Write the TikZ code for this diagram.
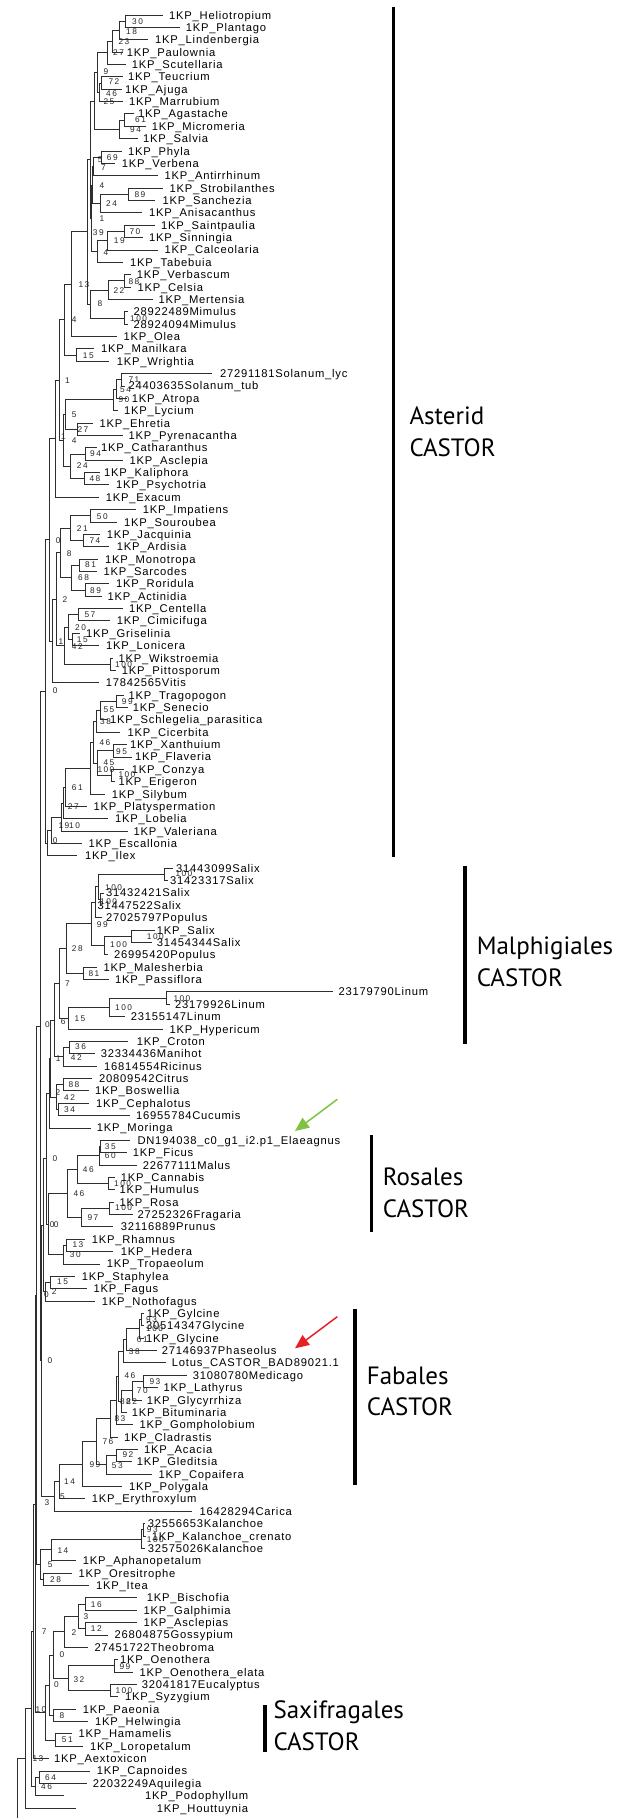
\documentclass[tikz,border=0pt]{standalone}
\usepackage{fontspec}
\setmainfont{Liberation Sans}
\newfontfamily\leaffont[LetterSpace=7]{Liberation Sans}
\newfontfamily\bootfont[LetterSpace=18]{Liberation Sans}
\newfontfamily\cladefont{PT Sans}
\usetikzlibrary{calc,arrows.meta}

% leaf: index, branch end x, label x, text
\newcommand\lf[4]{%
  \coordinate (l#1) at (#2,{15+(#1-1)*12.366});
  \node[leaf] (t#1) at (#3,{15+(#1-1)*12.366}) {#4};}
% internal node: name, x, first child, last child
\newcommand\nd[4]{\path let \p1=(#3),\p2=(#4) in coordinate (#1) at (#2pt,{0.5*(\y1+\y2)});}
% rectangular branches from a node to its children
\newcommand\br[2]{\foreach \c in {#2}{\draw[branch] (#1) |- (\c);}}
% support values
\newcounter{bsn}
\newcommand\bs[3]{\stepcounter{bsn}\node[boot] (bs\arabic{bsn}) at (#1,#2) {#3};}

\tikzset{
  leaf/.style={anchor=west,inner sep=0pt,text height=8pt,text depth=0pt,font=\leaffont\fontsize{11.2}{13}\selectfont},
  boot/.style={anchor=west,inner sep=0pt,text height=5.9pt,text depth=0pt,font=\bootfont\fontsize{8.3}{10}\selectfont,text=black!85},
  branch/.style={line width=0.9pt,black!82},
  cladebar/.style={line width=3.4pt,black},
  cladetext/.style={anchor=base west,inner sep=0pt,font=\cladefont\fontsize{25}{30}\selectfont},
  pointer/.style={line width=1.5pt,-{Triangle[length=14pt,width=12pt]}}
}

\begin{document}
\begin{tikzpicture}[x=1pt,y=-1pt]
\useasboundingbox (0,0) rectangle (625,1818);
\fill[white] (0,0) rectangle (625,1818);

% ---------------- leaves ----------------
\lf{1}{163.3}{169}{1KP\_Heliotropium}
\lf{2}{180}{185.7}{1KP\_Plantago}
\lf{3}{148}{155}{1KP\_Lindenbergia}
\lf{4}{123}{126.7}{1KP\_Paulownia}
\lf{5}{126}{131.7}{1KP\_Scutellaria}
\lf{6}{123}{128}{1KP\_Teucrium}
\lf{7}{121.7}{125}{1KP\_Ajuga}
\lf{8}{123}{129}{1KP\_Marrubium}
\lf{9}{134}{138}{1KP\_Agastache}
\lf{10}{146}{151.7}{1KP\_Micromeria}
\lf{11}{138}{143}{1KP\_Salvia}
\lf{12}{121.7}{128}{1KP\_Phyla}
\lf{13}{115}{121.7}{1KP\_Verbena}
\lf{14}{158.3}{164.3}{1KP\_Antirrhinum}
\lf{15}{163.3}{169.3}{1KP\_Strobilanthes}
\lf{16}{155}{162.3}{1KP\_Sanchezia}
\lf{17}{141.7}{149}{1KP\_Anisacanthus}
\lf{18}{155}{161}{1KP\_Saintpaulia}
\lf{19}{143.3}{149}{1KP\_Sinningia}
\lf{20}{158.3}{164.3}{1KP\_Calceolaria}
\lf{21}{122.7}{130}{1KP\_Tabebuia}
\lf{22}{131}{136.7}{1KP\_Verbascum}
\lf{23}{131}{137.3}{1KP\_Celsia}
\lf{24}{153.3}{158.3}{1KP\_Mertensia}
\lf{25}{128}{133.3}{28922489Mimulus}
\lf{26}{128}{133.3}{28924094Mimulus}
\lf{27}{116.7}{123.3}{1KP\_Olea}
\lf{28}{94.3}{101}{1KP\_Manilkara}
\lf{29}{109.3}{116.7}{1KP\_Wrightia}
\lf{30}{211.7}{220}{27291181Solanum\_lyc}
\lf{31}{125}{128.3}{24403635Solanum\_tub}
\lf{32}{127}{131.7}{1KP\_Atropa}
\lf{33}{118.3}{124}{1KP\_Lycium}
\lf{34}{92.7}{99.3}{1KP\_Ehretia}
\lf{35}{122.7}{128.3}{1KP\_Pyrenacantha}
\lf{36}{96.7}{101}{1KP\_Catharanthus}
\lf{37}{122.7}{129.3}{1KP\_Asclepia}
\lf{38}{100}{104}{1KP\_Kaliphora}
\lf{39}{109.3}{116}{1KP\_Psychotria}
\lf{40}{99}{105.7}{1KP\_Exacum}
\lf{41}{136}{142.7}{1KP\_Impatiens}
\lf{42}{117.3}{124}{1KP\_Souroubea}
\lf{43}{100}{106.7}{1KP\_Jacquinia}
\lf{44}{109.3}{116.7}{1KP\_Ardisia}
\lf{45}{98.3}{105}{1KP\_Monotropa}
\lf{46}{96.7}{103.3}{1KP\_Sarcodes}
\lf{47}{109.3}{116}{1KP\_Roridula}
\lf{48}{101.7}{107.3}{1KP\_Actinidia}
\lf{49}{122.7}{129}{1KP\_Centella}
\lf{50}{110}{116.7}{1KP\_Cimicifuga}
\lf{51}{80}{86}{1KP\_Griselinia}
\lf{52}{99.3}{106}{1KP\_Lonicera}
\lf{53}{113}{118.3}{1KP\_Wikstroemia}
\lf{54}{116}{121.7}{1KP\_Pittosporum}
\lf{55}{99}{105.7}{17842565Vitis}
\lf{56}{124}{128.3}{1KP\_Tragopogon}
\lf{57}{128}{132.7}{1KP\_Senecio}
\lf{58}{108}{110}{1KP\_Schlegelia\_parasitica}
\lf{59}{120}{127.3}{1KP\_Cicerbita}
\lf{60}{126.7}{130}{1KP\_Xanthuium}
\lf{61}{131.7}{135}{1KP\_Flaveria}
\lf{62}{124}{131.7}{1KP\_Conzya}
\lf{63}{115}{118.3}{1KP\_Erigeron}
\lf{64}{105}{111.7}{1KP\_Silybum}
\lf{65}{86.7}{93.3}{1KP\_Platyspermation}
\lf{66}{108.3}{115}{1KP\_Lobelia}
\lf{67}{127.7}{133.3}{1KP\_Valeriana}
\lf{68}{81.7}{88.3}{1KP\_Escallonia}
\lf{69}{77.3}{85}{1KP\_Ilex}
\lf{70}{173}{176}{31443099Salix}
\lf{71}{168}{170}{31423317Salix}
\lf{72}{104}{106}{31432421Salix}
\lf{73}{101}{97.3}{31447522Salix}
\lf{74}{102}{106}{27025797Populus}
\lf{75}{155}{156.7}{1KP\_Salix}
\lf{76}{152}{156.7}{31454344Salix}
\lf{77}{108}{114}{26995420Populus}
\lf{78}{96.7}{103.3}{1KP\_Malesherbia}
\lf{79}{109.3}{115}{1KP\_Passiflora}
\lf{80}{333.3}{338.3}{23179790Linum}
\lf{81}{170}{175}{23179926Linum}
\lf{82}{125}{130.7}{23155147Linum}
\lf{83}{163.3}{169.3}{1KP\_Hypericum}
\lf{84}{128.3}{136.7}{1KP\_Croton}
\lf{85}{95}{100.7}{32334436Manihot}
\lf{86}{96.7}{104}{16814554Ricinus}
\lf{87}{91.7}{99}{20809542Citrus}
\lf{88}{89.3}{95}{1KP\_Boswellia}
\lf{89}{89.3}{96}{1KP\_Cephalotus}
\lf{90}{130}{136}{16955784Cucumis}
\lf{91}{90.7}{96.7}{1KP\_Moringa}
\lf{92}{130}{137.3}{DN194038\_c0\_g1\_i2.p1\_Elaeagnus}
\lf{93}{126.7}{132.7}{1KP\_Ficus}
\lf{94}{136.7}{142.7}{22677111Malus}
\lf{95}{115}{120.7}{1KP\_Cannabis}
\lf{96}{115}{119.3}{1KP\_Humulus}
\lf{97}{114}{119.3}{1KP\_Rosa}
\lf{98}{133.3}{137.3}{27252326Fragaria}
\lf{99}{113.3}{120.7}{32116889Prunus}
\lf{100}{85}{91.7}{1KP\_Rhamnus}
\lf{101}{113.3}{120.7}{1KP\_Hedera}
\lf{102}{100}{106.7}{1KP\_Tropaeolum}
\lf{103}{75}{81.7}{1KP\_Staphylea}
\lf{104}{87.3}{93.3}{1KP\_Fagus}
\lf{105}{95}{101.7}{1KP\_Nothofagus}
\lf{106}{144}{146.7}{1KP\_Gylcine}
\lf{107}{144}{146}{30514347Glycine}
\lf{108}{144}{146}{1KP\_Glycine}
\lf{109}{156.7}{161.7}{27146937Phaseolus}
\lf{110}{166}{171.7}{Lotus\_CASTOR\_BAD89021.1}
\lf{111}{186.7}{192.7}{31080780Medicago}
\lf{112}{158.3}{163.3}{1KP\_Lathyrus}
\lf{113}{141.7}{146.7}{1KP\_Glycyrrhiza}
\lf{114}{126.7}{131.7}{1KP\_Bituminaria}
\lf{115}{133.3}{139.3}{1KP\_Gompholobium}
\lf{116}{118.3}{124}{1KP\_Cladrastis}
\lf{117}{138}{144}{1KP\_Acacia}
\lf{118}{132}{136.7}{1KP\_Gleditsia}
\lf{119}{151.7}{158.3}{1KP\_Copaifera}
\lf{120}{121.7}{129}{1KP\_Polygala}
\lf{121}{85}{91.7}{1KP\_Erythroxylum}
\lf{122}{191.7}{199.3}{16428294Carica}
\lf{123}{145}{147.7}{32556653Kalanchoe}
\lf{124}{146}{151.7}{1KP\_Kalanchoe\_crenato}
\lf{125}{145}{147.7}{32575026Kalanchoe}
\lf{126}{76}{82.7}{1KP\_Aphanopetalum}
\lf{127}{71.7}{78.3}{1KP\_Oresitrophe}
\lf{128}{89.3}{96}{1KP\_Itea}
\lf{129}{136.7}{146.7}{1KP\_Bischofia}
\lf{130}{136.7}{143.3}{1KP\_Galphimia}
\lf{131}{136.7}{143.3}{1KP\_Asclepias}
\lf{132}{108.3}{114.3}{26804875Gossypium}
\lf{133}{88.3}{94.3}{27451722Theobroma}
\lf{134}{118}{120}{1KP\_Oenothera}
\lf{135}{133.3}{139.3}{1KP\_Oenothera\_elata}
\lf{136}{136.7}{141.7}{32041817Eucalyptus}
\lf{137}{118}{125}{1KP\_Syzygium}
\lf{138}{76}{82.7}{1KP\_Paeonia}
\lf{139}{88.3}{95}{1KP\_Helwingia}
\lf{140}{71.7}{78.3}{1KP\_Hamamelis}
\lf{141}{83.3}{90}{1KP\_Loropetalum}
\lf{142}{49.3}{54}{1KP\_Aextoxicon}
\lf{143}{90}{96.7}{1KP\_Capnoides}
\lf{144}{87.3}{92.7}{22032249Aquilegia}
\lf{145}{64}{145}{1KP\_Podophyllum}
\lf{146}{76}{156.7}{1KP\_Houttuynia}

% ---------------- asterids ----------------
\nd{A}{125.7}{l1}{l2}      \br{A}{l1,l2}
\nd{B}{119.3}{A}{l3}       \br{B}{A,l3}
\nd{C}{112}{B}{l4}         \br{C}{B,l4}
\nd{D}{107.3}{C}{l5}       \br{D}{C,l5}
\nd{E}{101.3}{l6}{l7}      \br{E}{l6,l7}
\nd{F}{99}{E}{l8}          \br{F}{E,l8}
\nd{K}{97.3}{D}{F}         \br{K}{D,F}
\nd{H}{124.3}{l9}{l10}     \br{H}{l9,l10}
\nd{I}{119.3}{H}{l11}      \br{I}{H,l11}
\nd{LM}{94.5}{K}{I}        \br{LM}{K,I}
\nd{N}{101.7}{l12}{l13}    \br{N}{l12,l13}
\nd{O}{93.5}{N}{l14}       \br{O}{N,l14}
\nd{P}{128.3}{l15}{l16}    \br{P}{l15,l16}
\nd{Q}{100.7}{P}{l17}      \br{Q}{P,l17}
\nd{VF}{92}{O}{Q}          \br{VF}{O,Q}
\nd{R}{124}{l18}{l19}      \br{R}{l18,l19}
\nd{S}{107.3}{R}{l20}      \br{S}{R,l20}
\nd{T}{97.3}{S}{l21}       \br{T}{S,l21}
\nd{U}{91.2}{VF}{T}        \br{U}{VF,T}
\nd{MM}{90.5}{LM}{U}       \br{MM}{LM,U}
\nd{W}{124}{l22}{l23}      \br{W}{l22,l23}
\nd{X}{108.3}{W}{l24}      \br{X}{W,l24}
\nd{Y}{124}{l25}{l26}      \br{Y}{l25,l26}
\nd{Z}{90.7}{X}{Y}         \br{Z}{X,Y}
\nd{AA}{87.3}{MM}{Z}       \br{AA}{MM,Z}
\nd{AB}{71.7}{AA}{l27}     \br{AB}{AA,l27}
\nd{AC}{76.7}{l28}{l29}    \br{AC}{l28,l29}
\nd{AD}{64.3}{AB}{AC}      \br{AD}{AB,AC}
\nd{AE}{121.7}{l30}{l31}   \br{AE}{l30,l31}
\nd{AF}{116.7}{AE}{l32}    \br{AF}{AE,l32}
\nd{AG}{113.3}{AF}{l33}    \br{AG}{AF,l33}
\nd{AH}{77.3}{l34}{l35}    \br{AH}{l34,l35}
\nd{AI}{65}{AG}{AH}        \br{AI}{AG,AH}
\nd{AJ}{85}{l36}{l37}      \br{AJ}{l36,l37}
\nd{AK}{84}{l38}{l39}      \br{AK}{l38,l39}
\nd{AL}{70.7}{AJ}{AK}      \br{AL}{AJ,AK}
\nd{AM}{63.3}{AI}{AL}      \br{AM}{AI,AL}
\nd{AO}{59.3}{AD}{AM}      \br{AO}{AD,AM}
\nd{AN}{55}{AO}{l40}       \br{AN}{AO,l40}
\nd{AQ}{90.7}{l41}{l42}    \br{AQ}{l41,l42}
\nd{AR}{83.3}{l43}{l44}    \br{AR}{l43,l44}
\nd{AS}{70.7}{AQ}{AR}      \br{AS}{AQ,AR}
\nd{AT}{79.3}{l45}{l46}    \br{AT}{l45,l46}
\nd{AU}{85}{l47}{l48}      \br{AU}{l47,l48}
\nd{AV}{71.3}{AT}{AU}      \br{AV}{AT,AU}
\nd{AW}{60.7}{AS}{AV}      \br{AW}{AS,AV}
\nd{AX}{78.3}{l49}{l50}    \br{AX}{l49,l50}
\nd{AY}{72}{l51}{l52}      \br{AY}{l51,l52}
\nd{AZ}{68.3}{AX}{AY}      \br{AZ}{AX,AY}
\nd{BA}{110}{l53}{l54}     \br{BA}{l53,l54}
\nd{BB}{64.3}{AZ}{BA}      \br{BB}{AZ,BA}
\nd{BC}{56.7}{AW}{BB}      \br{BC}{AW,BB}
\nd{BD}{52.7}{BC}{l55}     \br{BD}{BC,l55}
\nd{BE}{49.7}{AN}{BD}      \br{BE}{AN,BD}
\nd{BF}{116}{l56}{l57}     \br{BF}{l56,l57}
\nd{BG}{100}{BF}{l58}      \br{BG}{BF,l58}
\nd{BH}{96.7}{BG}{l59}     \br{BH}{BG,l59}
\nd{BI}{113.3}{l60}{l61}   \br{BI}{l60,l61}
\nd{BJ}{111.7}{l62}{l63}   \br{BJ}{l62,l63}
\nd{BK}{97.3}{BI}{BJ}      \br{BK}{BI,BJ}
\nd{BX}{93}{BH}{BK}        \br{BX}{BH,BK}
\nd{BL}{90.7}{BX}{l64}     \br{BL}{BX,l64}
\nd{BM}{65.7}{BL}{l65}     \br{BM}{BL,l65}
\nd{BN}{63}{BM}{l66}       \br{BN}{BM,l66}
\nd{BNb}{61.7}{BN}{l67}    \br{BNb}{BN,l67}
\nd{BO}{51.7}{BNb}{l68}    \br{BO}{BNb,l68}
\nd{BP}{47.3}{BO}{l69}     \br{BP}{BO,l69}
\nd{BQ}{45}{BE}{BP}        \br{BQ}{BE,BP}

% ---------------- malpighiales and allies ----------------
\nd{BR}{164}{l70}{l71}     \br{BR}{l70,l71}
\nd{BS}{100}{l72}{l73}     \br{BS}{l72,l73}
\nd{BT}{98.3}{BR}{BS}      \br{BT}{BR,BS}
\nd{BU}{95}{BT}{l74}       \br{BU}{BT,l74}
\nd{BV}{131.7}{l75}{l76}   \br{BV}{l75,l76}
\nd{BW}{104}{BV}{l77}      \br{BW}{BV,l77}
\nd{BY}{91.7}{BU}{BW}      \br{BY}{BU,BW}
\nd{BZ}{83.3}{l78}{l79}    \br{BZ}{l78,l79}
\nd{CA}{66}{BY}{BZ}        \br{CA}{BY,BZ}
\nd{CB}{166}{l80}{l81}     \br{CB}{l80,l81}
\nd{CC}{109.3}{CB}{l82}    \br{CC}{CB,l82}
\nd{CD}{68.3}{CC}{l83}     \br{CD}{CC,l83}
\nd{CE}{59.3}{CA}{CD}      \br{CE}{CA,CD}
\nd{CF}{69}{l84}{l85}      \br{CF}{l84,l85}
\nd{CG}{63.3}{CF}{l86}     \br{CG}{CF,l86}
\nd{CH}{54.3}{CE}{CG}      \br{CH}{CE,CG}
\nd{CI}{63.3}{l87}{l88}    \br{CI}{l87,l88}
\nd{CJ}{58.3}{l89}{l90}    \br{CJ}{l89,l90}
\nd{CK}{56.7}{CI}{CJ}      \br{CK}{CI,CJ}
\nd{CL}{50.7}{CH}{CK}      \br{CL}{CH,CK}
\nd{CM}{49.3}{CL}{l91}     \br{CM}{CL,l91}

% ---------------- rosales and allies ----------------
\nd{CNa}{100.5}{l92}{l93}  \br{CNa}{l92,l93}
\nd{CN}{99.3}{CNa}{l94}    \br{CN}{CNa,l94}
\nd{CO}{108.3}{l95}{l96}   \br{CO}{l95,l96}
\nd{CP}{77.3}{CN}{CO}      \br{CP}{CN,CO}
\nd{CQ}{109.3}{l97}{l98}   \br{CQ}{l97,l98}
\nd{CR}{81.7}{CQ}{l99}     \br{CR}{CQ,l99}
\nd{CS}{67.7}{CP}{CR}      \br{CS}{CP,CR}
\nd{CU}{66}{l100}{l101}    \br{CU}{l100,l101}
\nd{CV}{63.3}{CU}{l102}    \br{CV}{CU,l102}
\nd{CW}{48.3}{CS}{CV}      \br{CW}{CS,CV}
\nd{CX}{50}{l103}{l104}    \br{CX}{l103,l104}
\nd{CY}{45}{CX}{l105}      \br{CY}{CX,l105}
\nd{PB}{46.5}{CM}{CW}      \br{PB}{CM,CW}
\nd{PC}{43.7}{PB}{CY}      \br{PC}{PB,CY}

% ---------------- fabales and allies ----------------
\nd{DC}{141}{l106}{l107}   \br{DC}{l106,l107}
\nd{DD}{139.3}{DC}{l108}   \br{DD}{DC,l108}
\nd{DE}{126.7}{DD}{l109}   \br{DE}{DD,l109}
\nd{DF}{123.3}{DE}{l110}   \br{DF}{DE,l110}
\nd{DG}{143.3}{l111}{l112} \br{DG}{l111,l112}
\nd{DH}{132}{DG}{l113}     \br{DH}{DG,l113}
\nd{DI}{121}{DH}{l114}     \br{DI}{DH,l114}
\nd{DK}{118.3}{DF}{DI}     \br{DK}{DF,DI}
\nd{DJ}{116.5}{DK}{l115}   \br{DJ}{DK,l115}
\nd{DL}{110}{DJ}{l116}     \br{DL}{DJ,l116}
\nd{DM}{116.7}{l117}{l118} \br{DM}{l117,l118}
\nd{DN}{106}{DM}{l119}     \br{DN}{DM,l119}
\nd{DO}{96.7}{DL}{DN}      \br{DO}{DL,DN}
\nd{DP}{82.7}{DO}{l120}    \br{DP}{DO,l120}
\nd{DQ}{59.3}{DP}{l121}    \br{DQ}{DP,l121}
\nd{DR}{54.3}{DQ}{l122}    \br{DR}{DQ,l122}
\nd{PE}{41.5}{PC}{DR}      \br{PE}{PC,DR}
\nd{PA}{40}{BQ}{PE}        \br{PA}{BQ,PE}

% ---------------- saxifragales and the rest ----------------
\nd{DS}{143}{l123}{l124}   \br{DS}{l123,l124}
\nd{DT}{141.7}{DS}{l125}   \br{DT}{DS,l125}
\nd{DU}{51.7}{DT}{l126}    \br{DU}{DT,l126}
\nd{DV}{43.3}{l127}{l128}  \br{DV}{l127,l128}
\nd{DW}{40.5}{DU}{DV}      \br{DW}{DU,DV}
\nd{PD}{36.7}{PA}{DW}      \br{PD}{PA,DW}
\nd{DX}{85}{l129}{l130}    \br{DX}{l129,l130}
\nd{DY}{85}{l131}{l132}    \br{DY}{l131,l132}
\nd{DZ}{78.3}{DX}{DY}      \br{DZ}{DX,DY}
\nd{EA}{64.3}{DZ}{l133}    \br{EA}{DZ,l133}
\nd{EB}{114}{l134}{l135}   \br{EB}{l134,l135}
\nd{EC}{110}{l136}{l137}   \br{EC}{l136,l137}
\nd{ED}{68}{EB}{EC}        \br{ED}{EB,EC}
\nd{EE}{53.3}{EA}{ED}      \br{EE}{EA,ED}
\nd{EF}{53.3}{l138}{l139}  \br{EF}{l138,l139}
\nd{EG}{49}{EE}{EF}        \br{EG}{EE,EF}
\nd{EH}{55}{l140}{l141}    \br{EH}{l140,l141}
\nd{EI}{45.7}{EG}{EH}      \br{EI}{EG,EH}
\nd{PF}{35.5}{PD}{EI}      \br{PF}{PD,EI}
\nd{RC}{33.5}{PF}{l142}    \br{RC}{PF,l142}
\nd{EK}{39.3}{l143}{l144}  \br{EK}{l143,l144}
\nd{EL}{35}{EK}{l145}      \br{EL}{EK,l145}
\nd{RB}{31.7}{RC}{EL}      \br{RB}{RC,EL}
\nd{RA}{25}{RB}{l146}      \br{RA}{RB,l146}
\path let \p1=(RA) in coordinate (root) at (17.3pt,\y1);
\coordinate (rootend) at (17.3,1818);
\draw[branch] (root) -- (RA);
\draw[branch] (root) -- (rootend);

% ---------------- support values ----------------
\bs{132}{21.7}{30} \bs{126}{31.6}{18} \bs{118.3}{41.7}{23} \bs{113}{52.7}{27}
\bs{103.3}{71.7}{9} \bs{108.3}{81.7}{72} \bs{106}{93.3}{46} \bs{103.3}{101.7}{25}
\bs{135}{120}{61} \bs{130}{130}{94}
\bs{106.7}{157.3}{69} \bs{97.7}{160}{5} \bs{101}{167.3}{7} \bs{99.3}{186}{4}
\bs{134.3}{194.3}{89} \bs{106}{203.3}{24} \bs{99.3}{219}{1} \bs{92.7}{232.7}{39}
\bs{129.3}{231.7}{70} \bs{113.7}{240.7}{19} \bs{103.3}{252.7}{4}
\bs{78.3}{285}{13} \bs{128.3}{281.7}{88} \bs{113.3}{290.7}{22} \bs{97.3}{304}{8}
\bs{130}{318.3}{100} \bs{71.7}{320}{4} \bs{82.7}{356}{15} \bs{65}{380.7}{1}
\bs{128.3}{380}{71} \bs{120}{389.3}{54} \bs{118.3}{399.3}{90} \bs{71.7}{415}{5}
\bs{77.3}{429.3}{27} \bs{61}{436.5}{1} \bs{71.7}{440.7}{4} \bs{90}{454}{94}
\bs{76.7}{466}{24} \bs{89.3}{478.3}{48} \bs{96.7}{516.7}{50} \bs{76.7}{528.3}{21}
\bs{89.3}{540.7}{74} \bs{55.7}{540.7}{0} \bs{66.7}{554}{8} \bs{85}{565}{81}
\bs{78}{577.7}{68} \bs{90}{590.7}{89} \bs{62.3}{599.3}{2}
\bs{84.3}{615}{57} \bs{75}{627.3}{20} \bs{76.7}{639.3}{15} \bs{58.3}{641.7}{1}
\bs{71.7}{646.7}{42} \bs{115}{665}{100} \bs{52.7}{690.7}{0}
\bs{121.7}{701.7}{99} \bs{103.3}{710}{55} \bs{100}{721.7}{38} \bs{99.3}{742.7}{46}
\bs{116}{751.7}{95} \bs{103.3}{762.7}{45} \bs{97.3}{769.3}{100} \bs{118.3}{775}{100}
\bs{71.7}{787.3}{61} \bs{67.7}{806.7}{27} \bs{58.3}{826}{19} \bs{69}{826}{10}
\bs{52.7}{840.7}{0}
\bs{175.3}{874}{100} \bs{105}{887.3}{100} \bs{100}{901.7}{100} \bs{96.7}{925}{99}
\bs{146.7}{936.7}{100} \bs{110}{945}{100} \bs{71.7}{948.3}{28} \bs{88.3}{973.3}{81}
\bs{65}{983.3}{7} \bs{173.3}{998.3}{100} \bs{115}{1007.3}{100} \bs{74.3}{1018.3}{15}
\bs{60.7}{1021.7}{6} \bs{45}{1025}{0} \bs{75}{1046.7}{36}
\bs{70.7}{1057.3}{42} \bs{55.7}{1058.3}{1} \bs{68.3}{1084.3}{88} \bs{55.3}{1092.7}{2}
\bs{64}{1097.3}{42} \bs{64}{1110}{34} \bs{52.3}{1158.3}{0}
\bs{104.7}{1146.7}{35} \bs{104.7}{1156}{60} \bs{82.7}{1169.3}{46} \bs{114}{1184}{100}
\bs{73.3}{1193.3}{46} \bs{115}{1207.3}{100} \bs{87.3}{1217.3}{97}
\bs{49.7}{1225}{0} \bs{53.7}{1225}{0}
\bs{72.3}{1245}{13} \bs{69.7}{1255}{30} \bs{57}{1281.7}{15} \bs{51.7}{1291.7}{2}
\bs{44}{1295}{0}
\bs{146}{1320}{93} \bs{146}{1328.3}{100} \bs{136.7}{1339.3}{61} \bs{128.7}{1351.7}{38}
\bs{47.3}{1361}{0} \bs{124.3}{1376}{46} \bs{149.3}{1381.7}{93} \bs{136.7}{1390.7}{70}
\bs{120}{1401.7}{82} \bs{126}{1401.7}{82} \bs{114.3}{1418.3}{83} \bs{102.3}{1441.7}{76}
\bs{122.3}{1455}{92} \bs{111.7}{1466}{53} \bs{89.3}{1465}{99} \bs{64}{1481.7}{14}
\bs{60}{1496.7}{5} \bs{44.3}{1502.7}{3}
\bs{146.7}{1530}{93} \bs{146.7}{1540}{100} \bs{57.3}{1550.7}{14} \bs{47.7}{1565}{5}
\bs{50}{1580}{28} \bs{90.7}{1605}{16} \bs{83.3}{1616.7}{3} \bs{90.7}{1628.3}{12}
\bs{71.3}{1632.7}{2} \bs{41.7}{1631.7}{7}
\bs{59.3}{1655}{0} \bs{119.3}{1666.7}{99} \bs{73.3}{1679.3}{32} \bs{54}{1685}{0}
\bs{115.3}{1690.7}{100} \bs{35.3}{1709.3}{10} \bs{59.3}{1716}{8} \bs{61.7}{1740}{51}
\bs{32.3}{1758.3}{13} \bs{45}{1777.3}{64} \bs{41}{1786.7}{46}

% ---------------- clade brackets ----------------
\coordinate (astA) at (393.3,6.7);    \coordinate (astB) at (393.3,857.3);
\coordinate (malA) at (465,866);      \coordinate (malB) at (465,1044);
\coordinate (rosA) at (371.3,1135);   \coordinate (rosB) at (371.3,1231.7);
\coordinate (fabA) at (355,1309.3);   \coordinate (fabB) at (355,1485);
\coordinate (saxA) at (265,1705);     \coordinate (saxB) at (265,1751.7);
\draw[cladebar] (astA) -- (astB);
\draw[cladebar] (malA) -- (malB);
\draw[cladebar] (rosA) -- (rosB);
\draw[cladebar] (fabA) -- (fabB);
\draw[cladebar] (saxA) -- (saxB);
\node[cladetext] (ast1) at (409.3,424) {Asterid};
\node[cladetext] (ast2) at (409.3,456) {CASTOR};
\node[cladetext] (mal1) at (476.6,954) {Malphigiales};
\node[cladetext] (mal2) at (476.6,986) {CASTOR};
\node[cladetext] (ros1) at (382.7,1185) {Rosales};
\node[cladetext] (ros2) at (382.7,1217) {CASTOR};
\node[cladetext] (fab1) at (366.7,1384.3) {Fabales};
\node[cladetext] (fab2) at (366.7,1415.7) {CASTOR};
\node[cladetext] (sax1) at (273.3,1718.3) {Saxifragales};
\node[cladetext] (sax2) at (273.3,1750) {CASTOR};

% ---------------- pointers ----------------
\definecolor{ptgreen}{RGB}{128,194,66}
\definecolor{ptred}{RGB}{232,32,38}
\coordinate (gA) at (337.3,1099.3); \coordinate (gB) at (295,1131);
\coordinate (rA) at (337.3,1316.7); \coordinate (rB) at (295,1348.3);
\draw[pointer,ptgreen] (gA) -- (gB);
\draw[pointer,ptred] (rA) -- (rB);
\end{tikzpicture}
\end{document}
